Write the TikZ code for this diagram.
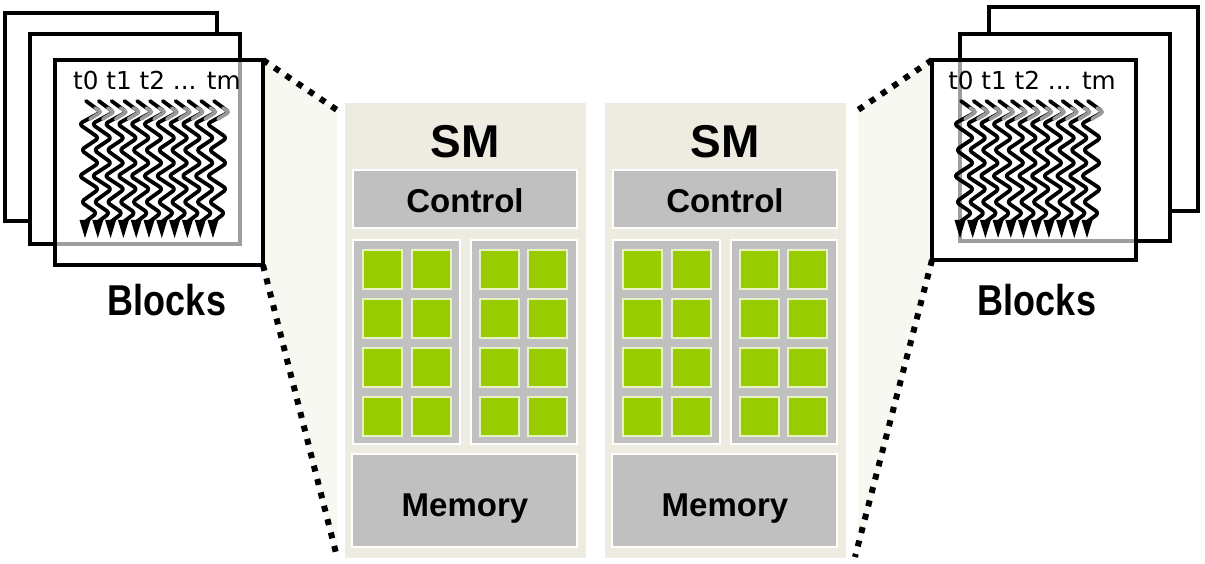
\documentclass[tikz,border=0pt]{standalone}
\usepackage{fontspec}
\setmainfont{Liberation Sans}
\newfontfamily\djv{DejaVu Sans}
\definecolor{panelbg}{HTML}{EEEBE0}
\definecolor{lightbg}{HTML}{F8F8F3}
\definecolor{boxgray}{HTML}{C0C0C0}
\definecolor{coregreen}{HTML}{99CC00}
\newcommand\drawthread[1]{%
  \draw[thr] (#1+1,101) -- (#1+16,112) -- (#1-6,124) -- (#1+14,138) -- (#1-4,150) -- (#1+14,163) -- (#1-6,176) -- (#1+14,189) -- (#1-4,202) -- (#1+12,213) -- (#1,222);
  \draw[thrgray] (#1+10,108) -- (#1+16,112) -- (#1+5,119);
  \fill[black] (#1-5.5,220) -- (#1+5.5,220) -- (#1,238) -- cycle;
}
\begin{document}
\begin{tikzpicture}[x=1pt,y=-1pt,
  frame/.style={draw=black,line width=4pt,fill=white},
  frontframe/.style={draw=black,line width=4pt,fill=white,fill opacity=0.62},
  thr/.style={draw=black,line width=3.8pt,rounded corners=3.5pt,line cap=round,line join=round},
  thrgray/.style={draw=black!40,line width=3.6pt,rounded corners=2pt,line cap=round},
  dots/.style={draw=black,line width=6pt,dash pattern=on 6pt off 7.8pt},
  graybox/.style={fill=boxgray,draw=white,line width=2pt},
  core/.style={fill=coregreen,draw=white!75!coregreen,line width=1.6pt},
  lbl/.style={font=\bfseries\fontsize{33}{36}\selectfont,inner sep=0pt,anchor=base},
  smlbl/.style={font=\bfseries\fontsize{46}{50}\selectfont,inner sep=0pt,anchor=base},
  tlbl/.style={font=\djv\fontsize{24.7}{28}\selectfont,inner sep=0pt,anchor=base},
  blbl/.style={font=\bfseries\fontsize{36}{40}\selectfont,inner sep=0pt,anchor=base,yscale=1.2},
]
\useasboundingbox (0,0) rectangle (1205,564);
% corner coordinates of the front blocks and panel edges
\coordinate (lNE) at (263,60);
\coordinate (lSE) at (263,265);
\coordinate (lPT) at (337,110);
\coordinate (lPB) at (337,557);
\coordinate (rNW) at (932,60);
\coordinate (rSW) at (932,260);
\coordinate (rPT) at (858,110);
\coordinate (rPB) at (855,557);
% light projection regions
\fill[lightbg] (lNE) -- (lPT) -- (lPB) -- (lSE) -- cycle;
\fill[lightbg] (rNW) -- (rPT) -- (858,557) -- (rSW) -- cycle;
% SM panels
\foreach \ox/\n in {0/1,260/2}{
  \begin{scope}[xshift=\ox]
    \fill[panelbg] (345,103) rectangle (586,558);
    \node[smlbl] (sm\n) at (465,158) {SM};
    \draw[graybox] (353,170) rectangle (577,228);
    \node[lbl] (ctl\n) at (465,213) {Control};
    \draw[graybox] (353,240) rectangle (460,444);
    \draw[graybox] (471,240) rectangle (577,444);
    \foreach \cx in {363,412,480,528}
      \foreach \cy in {250,299,348,397}
        \draw[core] (\cx,\cy) rectangle ++(39,39);
    \draw[graybox] (352,454) rectangle (577,547);
    \node[lbl] (mem\n) at (465,516) {Memory};
  \end{scope}
}
% left blocks
\draw[frame] (5,13) rectangle (217,221);
\draw[frame] (30,34) rectangle (240,244);
\draw[frontframe] (55,60) rectangle (lSE);
\foreach \i in {0,...,10}{
  \pgfmathsetmacro\xt{85+12.8*\i}
  \drawthread{\xt}
}
\node[tlbl] (tl) at (157,90) {t0 t1 t2 ... tm};
\node[blbl] (bl) at (167,315) {Blocks};
% right blocks
\draw[frame] (989,7) rectangle (1198,211);
\draw[frame] (960,34) rectangle (1170,241);
\draw[frontframe] (rNW) rectangle (1136,260);
\foreach \i in {0,...,10}{
  \pgfmathsetmacro\xt{960+12.7*\i}
  \drawthread{\xt}
}
\node[tlbl] (tr) at (1032,90) {t0 t1 t2 ... tm};
\node[blbl] (br) at (1037,315) {Blocks};
% dotted zoom lines
\draw[dots] (lNE) -- (lPT);
\draw[dots] (lSE) -- (lPB);
\draw[dots] (rNW) -- (rPT);
\draw[dots] (rSW) -- (rPB);
\end{tikzpicture}
\end{document}
